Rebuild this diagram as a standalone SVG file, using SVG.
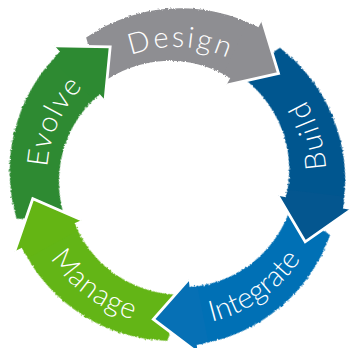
<svg xmlns="http://www.w3.org/2000/svg" width="350" height="348" viewBox="0 0 350 348">
<style>
.lbl{font-family:Lato,"Open Sans","DejaVu Sans",sans-serif;font-size:29px;font-weight:300;fill:#fff;text-anchor:middle}
.c-design{fill:#8e8e92}
.c-build{fill:#04568f}
.c-integrate{fill:#0670b5}
.c-manage{fill:#64b514}
.c-evolve{fill:#2d8a32}
.edge{fill:none;stroke:#fff;stroke-width:2.8;stroke-linejoin:miter}
.band{filter:url(#rough)}
</style>
<defs>
<filter id="rough" x="-5%" y="-5%" width="110%" height="110%">
<feTurbulence type="fractalNoise" baseFrequency="0.6" numOctaves="1" seed="3" result="n"/>
<feDisplacementMap in="SourceGraphic" in2="n" scale="3" xChannelSelector="R" yChannelSelector="G"/>
</filter>
<path id="band" d="M 86.14 37.61 A 167 167 0 0 1 258.42 27.32 L 230.30 78.04 A 115 115 0 0 0 99.51 84.84 Z"/>
<path id="head" d="M 262.29 20.32 L 278.53 73.47 L 226.42 85.04 L 230.30 78.04 L 223.76 73.58 L 247.21 23.29 L 258.42 27.32 Z"/>
<polyline id="edge" points="262.29,20.32 278.53,73.47 226.42,85.04"/>
<path id="cw" d="M 67.81 105.75 A 129 129 0 0 1 290.94 117.43"/>
<path id="ccw" d="M 309.65 107.90 A 150 150 0 0 0 50.19 94.31"/>
</defs>
<g id="design">
<use href="#band" class="band c-design"/>
<text class="lbl" letter-spacing="2.5"><textPath href="#cw" startOffset="132.8">Design</textPath></text>
</g>
<g id="build" transform="rotate(72 176 176)">
<use href="#band" class="band c-build"/>
<text class="lbl" letter-spacing="2.5"><textPath href="#ccw" startOffset="162.3">Build</textPath></text>
</g>
<g id="integrate" transform="rotate(144 176 176)">
<use href="#band" class="band c-integrate"/>
<text class="lbl" letter-spacing="0"><textPath href="#ccw" startOffset="162.3">Integrate</textPath></text>
</g>
<g id="manage" transform="rotate(216 176 176)">
<use href="#band" class="band c-manage"/>
<text class="lbl" letter-spacing="1"><textPath href="#ccw" startOffset="163">Manage</textPath></text>
</g>
<g id="evolve" transform="rotate(288 176 176)">
<use href="#band" class="band c-evolve"/>
<text class="lbl" letter-spacing="1.5"><textPath href="#cw" startOffset="141.9">Evolve</textPath></text>
</g>
<g id="arrowheads">
<g><use href="#head" class="c-design"/><use href="#edge" class="edge"/></g>
<g transform="rotate(72 176 176)"><use href="#head" class="c-build"/><use href="#edge" class="edge"/></g>
<g transform="rotate(144 176 176)"><use href="#head" class="c-integrate"/><use href="#edge" class="edge"/></g>
<g transform="rotate(216 176 176)"><use href="#head" class="c-manage"/><use href="#edge" class="edge"/></g>
<g transform="rotate(288 176 176)"><use href="#head" class="c-evolve"/><use href="#edge" class="edge"/></g>
</g>
</svg>
